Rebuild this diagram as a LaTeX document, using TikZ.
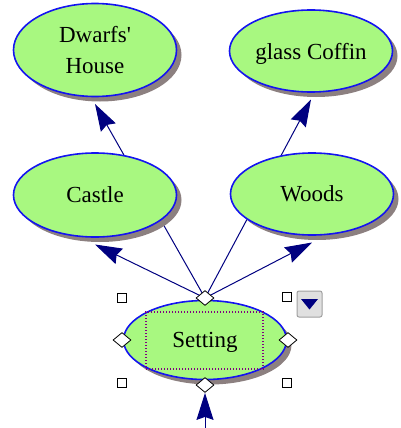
\documentclass[tikz,border=0pt]{standalone}
\usepackage{fontspec}
\setmainfont{Liberation Serif}
\usetikzlibrary{shapes.geometric,shadows,arrows.meta,backgrounds}
\definecolor{nodefill}{RGB}{168,248,128}
\definecolor{nodeborder}{RGB}{20,20,240}
\definecolor{shadowgray}{RGB}{140,128,128}
\definecolor{linenavy}{RGB}{0,0,128}
\definecolor{handlepurple}{RGB}{128,0,128}
\definecolor{btnfill}{RGB}{224,224,224}
\definecolor{btnborder}{RGB}{160,160,160}
\begin{document}
\begin{tikzpicture}[x=1pt,y=-1pt,
  topic/.style={ellipse, draw=nodeborder, line width=1.6pt, fill=nodefill,
    inner sep=0pt, outer sep=7.5pt, minimum width=163pt, align=center,
    text depth=0pt, font=\fontsize{23}{31}\selectfont,
    drop shadow={shadow xshift=5pt, shadow yshift=-5pt, fill=shadowgray, opacity=1}},
  link/.style={draw=linenavy, line width=1pt,
    -{Stealth[length=27pt,width=17pt,inset=3pt]}},
  handle/.style={diamond, draw=black, fill=white, line width=0.8pt,
    minimum width=18pt, minimum height=15pt, inner sep=0pt},
  corner/.style={rectangle, draw=black, fill=white, line width=0.9pt,
    minimum size=9pt, inner sep=0pt},
  selbox/.style={draw=handlepurple, line width=1.2pt, dash pattern=on 1.2pt off 1.8pt,
    inner sep=0pt, minimum width=117pt, minimum height=57pt},
  button/.style={draw=btnborder, fill=btnfill, rounded corners=2pt,
    line width=1pt, minimum width=25pt, minimum height=26pt, inner sep=0pt}
]
\useasboundingbox (0,0) rectangle (401,428);

\node[topic, minimum height=93pt] (dwarfs) at (95,50) {Dwarfs\textquotesingle\\House};
\node[topic, minimum height=82pt] (coffin) at (311,51) {glass Coffin};
\node[topic, minimum height=84pt] (castle) at (95,195) {Castle};
\node[topic, minimum height=82pt] (woods) at (312,194) {Woods};
\node[topic, minimum height=79pt, outer sep=0pt] (setting) at (205,340) {Setting};

\node[selbox] (sel) at (204.5,340.5) {};

\node[handle] (dtop) at (205,298) {};
\node[handle] (dleft) at (122,340) {};
\node[handle] (dright) at (288,340) {};
\node[handle] (dbot) at (205,385) {};

\node[corner] (c1) at (122,298) {};
\node[corner] (c2) at (287,297) {};
\node[corner] (c3) at (122,383) {};
\node[corner] (c4) at (287,383) {};

\node[button] (btn) at (309.5,304) {};
\fill[linenavy] (301,299) -- (318,299) -- (309.5,309.5) -- cycle;

\coordinate (bin) at (205,428);
\begin{pgfonlayer}{background}
\draw[link] (dtop.center) -- (dwarfs.south);
\draw[link] (dtop.center) -- (coffin.south);
\draw[link] (dtop.center) -- (castle.south);
\draw[link] (dtop.center) -- (woods.south);
\draw[link] (bin) -- (dbot.south);
\end{pgfonlayer}
\end{tikzpicture}
\end{document}
